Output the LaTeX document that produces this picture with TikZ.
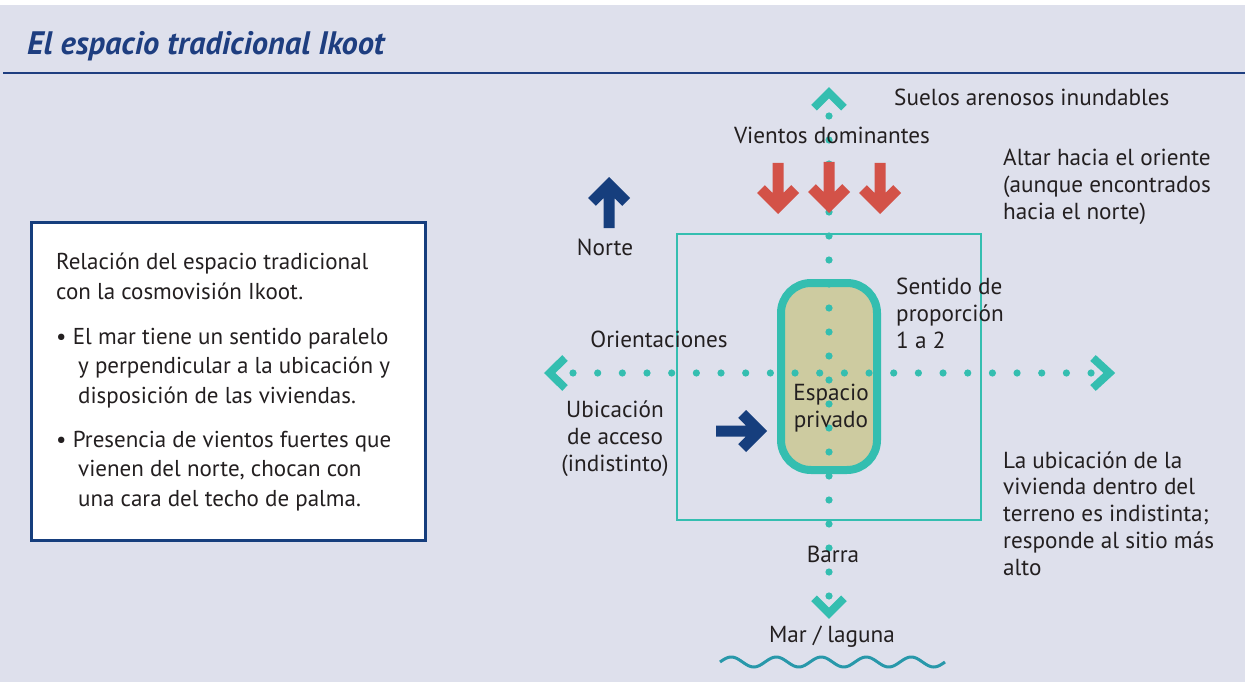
\documentclass[tikz,border=0pt]{standalone}
\usepackage{fontspec}
\setmainfont{PT Sans}
\usetikzlibrary{positioning}

\definecolor{clrbg}{RGB}{222,224,236}
\definecolor{clrtitle}{RGB}{30,62,128}
\definecolor{clrteal}{RGB}{52,190,176}
\definecolor{clrwind}{RGB}{211,82,72}
\definecolor{clrnavy}{RGB}{22,62,125}
\definecolor{clrkhaki}{RGB}{205,203,160}
\definecolor{clrtext}{RGB}{35,31,32}
\definecolor{clrwave}{RGB}{40,152,170}

\tikzset{
  lbl/.style={inner sep=0pt, text=clrtext, align=left,
              font=\fontsize{23.2}{26.7}\selectfont},
  boxtxt/.style={inner sep=0pt, text=clrtext, align=left,
              font=\fontsize{23}{29.5}\selectfont},
  chevron/.style={clrteal, line width=8, miter limit=10},
}

% block arrow, tip at (#1,#2), pointing down before rotation
\newcommand{\blockarrow}[4]{%
  \fill[#4, shift={(#1,#2)}, rotate=#3] (0,0) -- (-21,-21) -- (-13.2,-28.8)
    -- (-5.5,-21.1) -- (-5.5,-51) -- (5.5,-51) -- (5.5,-21.1)
    -- (13.2,-28.8) -- (21,-21) -- cycle;}

\begin{document}
\begin{tikzpicture}[x=1pt, y=-1pt]

\def\axisX{829}
\def\axisY{373}
\def\dotR{3.6}

\useasboundingbox (0,0) rectangle (1245,682);
\fill[white] (0,0) rectangle (1245,682);
\fill[clrbg] (0,5) rectangle (1245,682);

% title
\node[anchor=base west, inner sep=0pt, text=clrtitle,
      font=\fontsize{32.5}{34}\selectfont\bfseries\itshape] (title) at (27,55)
      {El espacio tradicional Ikoot};
\draw[clrtitle, line width=1.5] (3,73) -- (1245,73);

% left box (multi-line nodes sit on their last baseline)
\draw[clrnavy, line width=2.5, fill=white] (31.5,222.5) rectangle (425.5,540.5);
\node[boxtxt, anchor=base west] (intro) at (56,299)
      {Relación del espacio tradicional\\con la cosmovisión Ikoot.};
\node[boxtxt, anchor=base west] (itemA) at (56,403)
      {\makebox[16.7pt][l]{\textbullet}El mar tiene un sentido paralelo\\
       \hspace*{22pt}y perpendicular a la ubicación y\\
       \hspace*{22pt}disposición de las viviendas.};
\node[boxtxt, anchor=base west] (itemB) at (56,506)
      {\makebox[16.7pt][l]{\textbullet}Presencia de vientos fuertes que\\
       \hspace*{22pt}vienen del norte, chocan con\\
       \hspace*{22pt}una cara del techo de palma.};

% terrain and house
\draw[clrteal, line width=2] (677,234) rectangle (981,520);
\draw[clrteal, line width=8, fill=clrkhaki, rounded corners=30]
      (781,283) rectangle (877,470);

% axes
\foreach \k in {0,...,20}
  \fill[clrteal] (\axisX,116+24*\k) circle (\dotR);
\foreach \k in {0,...,21}
  \fill[clrteal] (573+24.67*\k,\axisY) circle (\dotR);
\draw[chevron] (814,107.7) -- (\axisX,92.7) -- (844,107.7);
\draw[chevron] (814,598.3) -- (\axisX,613.3) -- (844,598.3);
\draw[chevron] (565,358) -- (549.7,\axisY) -- (565,388);
\draw[chevron] (1093,358) -- (1109.3,\axisY) -- (1093,388);

% arrows
\blockarrow{778}{214}{0}{clrwind}
\blockarrow{829}{213}{0}{clrwind}
\blockarrow{880}{214}{0}{clrwind}
\blockarrow{609}{177}{180}{clrnavy}
\blockarrow{767}{431}{90}{clrnavy}

% sea
\draw[clrwave, line width=3] plot[domain=0:225, samples=120]
      ({720+\x},{662-5*sin(\x*8)});

% labels
\node[lbl, anchor=base west] (soil) at (894,106) {Suelos arenosos inundables};
\node[lbl, anchor=base] (wind) at (832,143) {Vientos dominantes};
\node[lbl, anchor=base west] (altar) at (1003,219)
      {Altar hacia el oriente\\(aunque encontrados\\hacia el norte)};
\node[lbl, anchor=base] (north) at (605,255) {Norte};
\node[lbl, anchor=base west] (ratio) at (896,348)
      {Sentido de\\proporción\\1 a 2};
\node[lbl, anchor=base] (orient) at (659,347) {Orientaciones};
\node[lbl, anchor=base, align=center] (house) at (831,427)
      {Espacio\\privado};
\node[lbl, anchor=base, align=center] (access) at (615,471)
      {Ubicación\\de acceso\\(indistinto)};
\node[lbl, anchor=base west] (site) at (1003,575)
      {La ubicación de la\\vivienda dentro del\\terreno es indistinta;\\responde al sitio más\\alto};
\node[lbl, anchor=base] (bar) at (833,562) {Barra};
\node[lbl, anchor=base] (sea) at (832,642) {Mar / laguna};

\end{tikzpicture}
\end{document}
